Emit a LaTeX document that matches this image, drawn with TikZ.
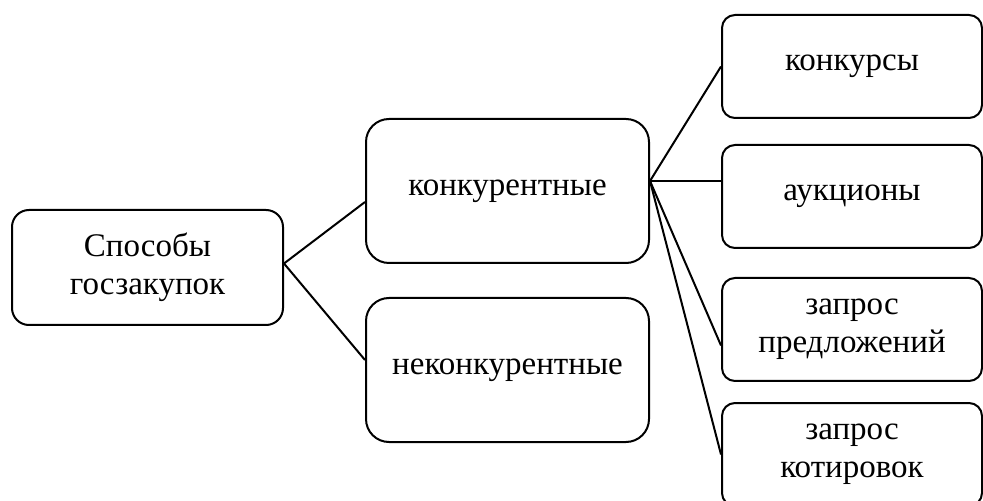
\documentclass[tikz,border=0pt]{standalone}
\usepackage{fontspec}
\setmainfont{Liberation Serif}
\usepackage{tikz}
\usetikzlibrary{positioning}
\tikzstyle{base} = [rectangle, draw=black, line width=1pt, text centered, align=center, inner sep=0pt, font=\fontsize{16.5}{19}\selectfont]
\tikzstyle{root} = [base, minimum width=135.5pt, minimum height=57.5pt, rounded corners=8.5pt]
\tikzstyle{group} = [base, minimum width=141.5pt, minimum height=72pt, rounded corners=11.5pt]
\tikzstyle{leaf} = [base, minimum width=130pt, minimum height=51.5pt, rounded corners=6.5pt]
\tikzstyle{link} = [line width=1pt]

\begin{document}
\begin{tikzpicture}[x=0.5pt, y=-0.5pt]
		\useasboundingbox (0,0) rectangle (983,501);
		\node (Methods)[root] at (147.5,267.5) {Способы\\госзакупок};
		\node (Competitive)[group] at (507.5,191) {конкурентные};
		\node (Noncompetitive)[group, below = 16.5pt of Competitive]{неконкурентные};
		\node (Contests)[leaf] at (852,66.5) {конкурсы};
		\node (Auctions)[leaf, below = 12.5pt of Contests]{аукционы};
		\node (Proposals)[leaf, below = 14pt of Auctions]{запрос\\предложений};
		\node (Quotations)[leaf, below = 10pt of Proposals]{запрос\\котировок};
		\coordinate (Fan) at ([yshift=5pt]Competitive.east);
		\draw [link] ([yshift=2pt]Methods.east) -- ([yshift=-5.5pt]Competitive.west);
		\draw [link] ([yshift=2pt]Methods.east) -- ([yshift=5pt]Noncompetitive.west);
		\draw [link] (Fan) -- (Contests.west);
		\draw [link] (Fan) -- (Auctions.west |- Fan);
		\draw [link] (Fan) -- ([yshift=-8pt]Proposals.west);
		\draw [link] (Fan) -- (Quotations.west);
	\end{tikzpicture}
\end{document}
